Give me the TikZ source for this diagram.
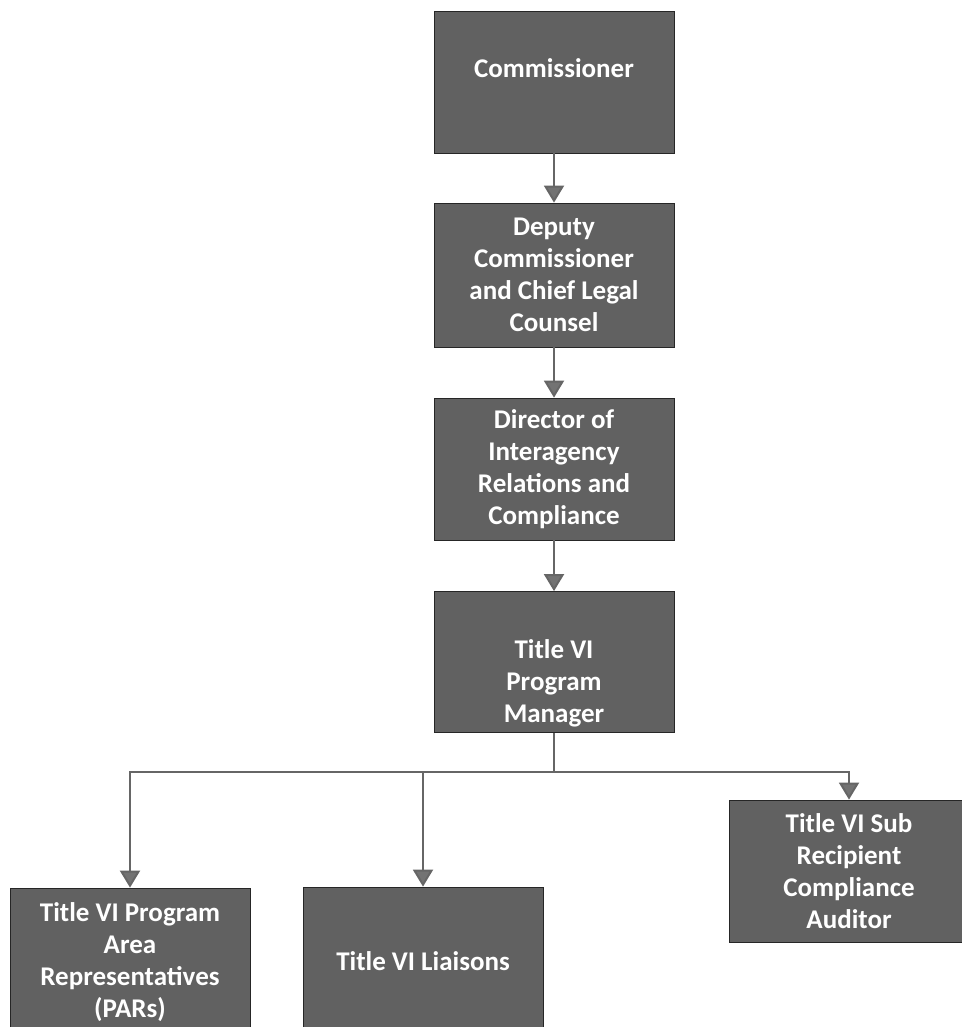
\documentclass[tikz,border=0pt]{standalone}
\usepackage{fontspec}
\setmainfont{Carlito}
\usetikzlibrary{arrows.meta}

\begin{document}
\begin{tikzpicture}[x=0.5pt, y=-0.5pt]
\tikzset{boite/.style={draw=black!85, fill=black!62, text=white, font=\bfseries\fontsize{13.5}{16}\selectfont, align=center, minimum width=120pt, minimum height=71pt, inner sep=2pt}}
\tikzset{fleche/.style={draw=black!60, line width=1pt, -{Triangle[width=10pt, length=8.5pt, fill=black!55]}}}
\useasboundingbox (0, 0) rectangle (962, 1027);
\clip (0, 0) rectangle (962, 1027);
\fill[white] (0, 0) rectangle (962, 1027);
\node[boite] (C) at (554, 82) {Commissioner\\[-2pt]\mbox{}};
\node[boite, minimum height=72pt] (D) at (554, 275) {Deputy\\Commissioner\\and Chief Legal\\Counsel};
\node[boite] (R) at (554, 469) {Director of\\Interagency\\Relations and\\Compliance};
\node[boite, minimum height=70.5pt] (M) at (554, 662) {\mbox{}\\[15pt]Title VI\\Program\\Manager};
\node[boite, minimum height=74pt] (P) at (130, 962) {Title VI Program\\Area\\Representatives\\(PARs)};
\node[boite, minimum height=74pt] (L) at (423, 961) {Title VI Liaisons};
\node[boite] (A) at (849, 871) {Title VI Sub\\Recipient\\Compliance\\Auditor};
\coordinate (bus) at (554, 772);
\draw[fleche] (C) -- (D);
\draw[fleche] (D) -- (R);
\draw[fleche] (R) -- (M);
\draw[draw=black!60, line width=1pt] (M) -- (bus);
\draw[fleche] (bus) -| (P);
\draw[fleche] (bus) -| (L);
\draw[fleche] (bus) -| (A);
\end{tikzpicture}
\end{document}
